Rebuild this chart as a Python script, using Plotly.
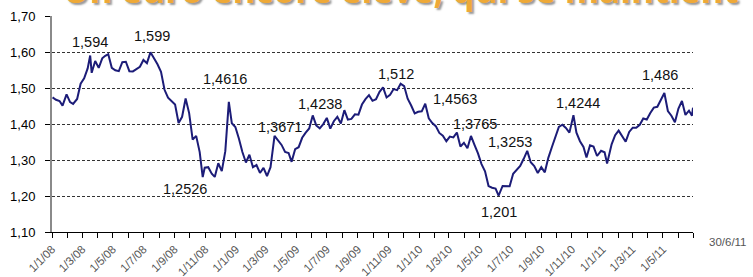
import plotly.graph_objects as go

# EUR/USD reference rate
dates = [
    "2008-01-02", "2008-01-09", "2008-01-16", "2008-01-22", "2008-01-30", "2008-02-06", "2008-02-12",
    "2008-02-20", "2008-02-27", "2008-03-05", "2008-03-12", "2008-03-17", "2008-03-20", "2008-03-27",
    "2008-04-03", "2008-04-10", "2008-04-16", "2008-04-22", "2008-04-29", "2008-05-06", "2008-05-13",
    "2008-05-20", "2008-05-27", "2008-06-03", "2008-06-10", "2008-06-17", "2008-06-24", "2008-07-01",
    "2008-07-08", "2008-07-15", "2008-07-22", "2008-07-29", "2008-08-05", "2008-08-12", "2008-08-19",
    "2008-08-26", "2008-09-02", "2008-09-09", "2008-09-16", "2008-09-23", "2008-09-30", "2008-10-07",
    "2008-10-14", "2008-10-21", "2008-10-27", "2008-10-31", "2008-11-07", "2008-11-14", "2008-11-20",
    "2008-11-27", "2008-12-04", "2008-12-11", "2008-12-18", "2008-12-24", "2008-12-31",
    "2009-01-07", "2009-01-14", "2009-01-21", "2009-01-28", "2009-02-04", "2009-02-11", "2009-02-18",
    "2009-02-25", "2009-03-04", "2009-03-11", "2009-03-19", "2009-03-26", "2009-04-02", "2009-04-09",
    "2009-04-16", "2009-04-22", "2009-04-29", "2009-05-06", "2009-05-13", "2009-05-20", "2009-05-27",
    "2009-06-03", "2009-06-10", "2009-06-17", "2009-06-24", "2009-07-01", "2009-07-08", "2009-07-15",
    "2009-07-22", "2009-07-29", "2009-08-05", "2009-08-12", "2009-08-19", "2009-08-26", "2009-09-02",
    "2009-09-09", "2009-09-16", "2009-09-23", "2009-09-30", "2009-10-07", "2009-10-14", "2009-10-21",
    "2009-10-28", "2009-11-04", "2009-11-11", "2009-11-18", "2009-11-25", "2009-12-02", "2009-12-09",
    "2009-12-16", "2009-12-23", "2009-12-30",
    "2010-01-06", "2010-01-13", "2010-01-20", "2010-01-27", "2010-02-03", "2010-02-10", "2010-02-17",
    "2010-02-24", "2010-03-03", "2010-03-10", "2010-03-17", "2010-03-24", "2010-03-31", "2010-04-07",
    "2010-04-14", "2010-04-21", "2010-04-28", "2010-05-05", "2010-05-12", "2010-05-19", "2010-05-26",
    "2010-06-02", "2010-06-08", "2010-06-16", "2010-06-23", "2010-06-30", "2010-07-07", "2010-07-14",
    "2010-07-21", "2010-07-28", "2010-08-04", "2010-08-11", "2010-08-18", "2010-08-25", "2010-09-01",
    "2010-09-08", "2010-09-15", "2010-09-22", "2010-09-29", "2010-10-06", "2010-10-13", "2010-10-20",
    "2010-10-27", "2010-11-04", "2010-11-10", "2010-11-17", "2010-11-24", "2010-11-30", "2010-12-07",
    "2010-12-14", "2010-12-21", "2010-12-29",
    "2011-01-05", "2011-01-10", "2011-01-19", "2011-01-26", "2011-02-02", "2011-02-09", "2011-02-16",
    "2011-02-23", "2011-03-02", "2011-03-09", "2011-03-16", "2011-03-23", "2011-03-30", "2011-04-06",
    "2011-04-13", "2011-04-20", "2011-04-27", "2011-05-04", "2011-05-11", "2011-05-18", "2011-05-25",
    "2011-06-01", "2011-06-08", "2011-06-15", "2011-06-22", "2011-06-28", "2011-06-30",
]
rates = [
    1.4738, 1.4672, 1.4637, 1.4510, 1.4822, 1.4608, 1.4560,
    1.4696, 1.5120, 1.5270, 1.5545, 1.5903, 1.5422, 1.5750,
    1.5558, 1.5824, 1.5893, 1.5940, 1.5560, 1.5494, 1.5469,
    1.5718, 1.5730, 1.5467, 1.5460, 1.5530, 1.5590, 1.5780,
    1.5690, 1.5990, 1.5840, 1.5660, 1.5450, 1.4950, 1.4730,
    1.4625, 1.4540, 1.4028, 1.4200, 1.4710, 1.4303, 1.3565,
    1.3670, 1.3220, 1.2526, 1.2785, 1.2800, 1.2620, 1.2530,
    1.2910, 1.2690, 1.3245, 1.4616, 1.4020, 1.3917,
    1.3600, 1.3223, 1.2930, 1.3145, 1.2800, 1.2860, 1.2640,
    1.2780, 1.2555, 1.2800, 1.3671, 1.3537, 1.3419, 1.3222,
    1.3193, 1.2949, 1.3301, 1.3355, 1.3617, 1.3760, 1.3875,
    1.4238, 1.3960, 1.3878, 1.3997, 1.4170, 1.3872, 1.4077,
    1.4200, 1.4016, 1.4385, 1.4120, 1.4140, 1.4270, 1.4260,
    1.4540, 1.4690, 1.4800, 1.4643, 1.4687, 1.4893, 1.5018,
    1.4737, 1.4812, 1.4970, 1.4941, 1.5120, 1.5053, 1.4702,
    1.4513, 1.4291, 1.4338,
    1.4352, 1.4563, 1.4160, 1.4027, 1.3940, 1.3752, 1.3676,
    1.3522, 1.3652, 1.3627, 1.3765, 1.3375, 1.3479, 1.3328,
    1.3667, 1.3418, 1.3183, 1.2887, 1.2687, 1.2277, 1.2230,
    1.2207, 1.2010, 1.2280, 1.2283, 1.2271, 1.2619, 1.2736,
    1.2838, 1.3033, 1.3253, 1.2937, 1.2834, 1.2640, 1.2800,
    1.2658, 1.3060, 1.3355, 1.3650, 1.3920, 1.3980, 1.3891,
    1.3760, 1.4244, 1.3759, 1.3521, 1.3364, 1.3068, 1.3410,
    1.3373, 1.3111, 1.3255,
    1.3214, 1.2903, 1.3436, 1.3688, 1.3817, 1.3650, 1.3509,
    1.3779, 1.3898, 1.3894, 1.3979, 1.4152, 1.4124, 1.4308,
    1.4456, 1.4479, 1.4689, 1.4860, 1.4360, 1.4229, 1.4049,
    1.4429, 1.4638, 1.4253, 1.4372, 1.4232, 1.4453,
]

# value labels (text, anchor date, anchor value)
label_texts = ["1,594", "1,599", "1,4616", "1,2526", "1,3671", "1,4238", "1,512",
               "1,4563", "1,3765", "1,3253", "1,201", "1,4244", "1,486", "1,4453"]
label_dates = ["2008-03-16", "2008-07-19", "2008-12-11", "2008-09-22", "2009-03-29", "2009-06-17",
               "2009-11-15", "2010-03-13", "2010-04-22", "2010-07-01", "2010-06-08", "2010-11-13",
               "2011-04-26", "2011-09-10"]
label_values = [1.628, 1.645, 1.525, 1.220, 1.393, 1.455, 1.539,
                1.469, 1.399, 1.349, 1.156, 1.4575, 1.536, 1.441]

# monthly ticks, labels every two months
month_ticks = []
month_text = []
for yr in range(2008, 2012):
    for m in range(1, 13):
        if yr == 2011 and m > 6:
            break
        month_ticks.append(f"{yr}-{m:02d}-01")
        month_text.append(f"1/{m}/{str(yr)[2:]}" if m % 2 == 1 else "")
month_ticks.append("2011-06-30")
month_text.append("")

title_text = "Un euro encore élevé, qui se maintient"
end_label = "30/6/11"

FONT = "Liberation Sans, Arial, sans-serif"

fig = go.Figure()
fig.add_trace(go.Scatter(
    x=dates, y=rates, mode="lines",
    line=dict(color="#1c1c78", width=2),
    hoverinfo="skip", showlegend=False,
))

for t, d, v in zip(label_texts, label_dates, label_values):
    fig.add_annotation(x=d, y=v, text=t, showarrow=False,
                       font=dict(family=FONT, size=14.5, color="#111111"),
                       xanchor="center", yanchor="middle")

fig.add_annotation(xref="paper", yref="paper", x=(728 - 52) / 641, y=(232 - 242) / 216,
                   text=end_label, showarrow=False,
                   font=dict(family=FONT, size=11.5, color="#555555"),
                   xanchor="center", yanchor="middle")

fig.add_annotation(xref="paper", yref="paper", x=(401 - 52) / 641, y=(232 - (-11)) / 216,
                   text=f"<b>{title_text}</b>", showarrow=False,
                   font=dict(family="Open Sans, sans-serif", size=35, color="#eea938",
                             shadow="2px 2px 2px #999999"),
                   xanchor="center", yanchor="middle")

fig.update_layout(
    width=753, height=277,
    margin=dict(l=52, r=60, t=16, b=45, autoexpand=False),
    paper_bgcolor="white", plot_bgcolor="white",
    separators=", ",
    font=dict(family=FONT),
    xaxis=dict(
        type="date", range=["2008-01-01", "2011-06-30"], automargin=False,
        tickmode="array", tickvals=month_ticks, ticktext=month_text,
        tickangle=-45, tickfont=dict(family=FONT, size=11.5, color="#555555"),
        ticks="outside", ticklen=5, tickcolor="#000000", tickwidth=1,
        showline=True, linecolor="#000000", linewidth=1,
        showgrid=False, zeroline=False,
    ),
    xaxis2=dict(
        type="date", range=["2008-01-01", "2011-06-30"], overlaying="x", anchor="y", side="bottom",
        automargin=False,
        tickmode="array", tickvals=month_ticks, ticktext=["" for _ in month_ticks],
        ticks="inside", ticklen=5, tickcolor="#000000", tickwidth=1,
        showticklabels=False, showline=False, showgrid=False, zeroline=False,
    ),
    yaxis=dict(
        range=[1.10, 1.70], tickmode="linear", tick0=1.10, dtick=0.10, tickformat=".2f",
        automargin=False,
        tickfont=dict(family=FONT, size=13, color="#000000"),
        ticks="outside", ticklen=5, tickcolor="#000000",
        ticklabelstandoff=7,
        showline=True, linecolor="#8a8a8a", linewidth=2,
        showgrid=True, gridcolor="#333333", gridwidth=1, griddash="3px,2px",
        zeroline=False,
    ),
)

fig.write_html("out.html",
               config={"displayModeBar": False, "staticPlot": True},
               post_script="document.body.style.margin='0px';document.body.style.overflow='hidden';")
